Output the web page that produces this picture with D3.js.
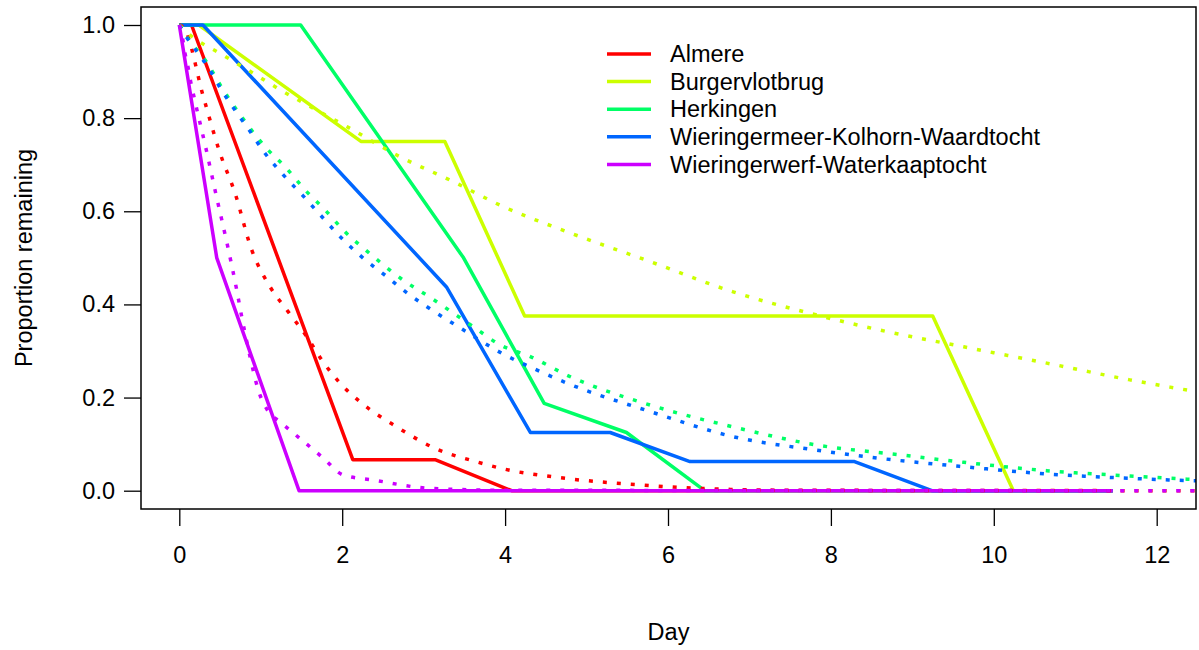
<!DOCTYPE html>
<html>
<head>
<meta charset="utf-8">
<script src="https://cdn.jsdelivr.net/npm/d3@7"></script>
<style>
  html, body { margin: 0; padding: 0; background: #fff; }
  svg text { font-family: "Liberation Sans", Arial, sans-serif; fill: #000; }
</style>
</head>
<body>
<svg id="chart" width="1199" height="650"></svg>
<script>
// Sites and their colours
const sites = ["Almere", "Burgervlotbrug", "Herkingen",
  "Wieringermeer-Kolhorn-Waardtocht", "Wieringerwerf-Waterkaaptocht"];
const siteColors = ["#FF0000", "#CCFF00", "#00FF66", "#0066FF", "#CC00FF"];

// Observed proportion remaining, [day, proportion]
const obsAlmere = [[0, 1], [0.15, 1], [2.13, 0.0667], [3.14, 0.0667], [4.08, 0], [11.46, 0]];
const obsBurgervlotbrug = [[0, 1], [0.24, 1], [2.23, 0.75], [3.26, 0.75], [4.24, 0.375], [9.25, 0.375], [10.24, 0], [11.46, 0]];
const obsHerkingen = [[0, 1], [1.49, 1], [3.49, 0.5], [4.48, 0.1875], [5.49, 0.125], [6.45, 0], [11.46, 0]];
const obsKolhorn = [[0, 1], [0.29, 1], [3.28, 0.4375], [4.31, 0.125], [5.29, 0.125], [6.27, 0.0625], [8.29, 0.0625], [9.24, 0], [11.46, 0]];
const obsWaterkaap = [[0, 1], [0.46, 0.5], [1.47, 0], [11.46, 0]];

// Fitted decay curves, [day, proportion]
const fitAlmere = [[0, 1], [0.06, 0.993], [0.295, 0.846], [0.5, 0.725], [0.684, 0.639], [0.889, 0.517],
  [1.114, 0.438], [1.338, 0.384], [1.564, 0.331], [1.748, 0.281], [1.973, 0.231], [2.24, 0.188],
  [2.67, 0.137], [3.14, 0.091], [3.65, 0.062], [4.0, 0.046], [4.67, 0.028], [5.7, 0.012],
  [6.39, 0.005], [7.5, 0.001], [13, 0]];
const fitBurgervlotbrug = [[0, 1], [0.13, 0.979], [0.5, 0.939], [0.847, 0.903], [1.277, 0.857],
  [1.605, 0.825], [2.055, 0.782], [2.71, 0.717], [3.36, 0.664], [3.94, 0.613], [4.76, 0.556],
  [5.78, 0.492], [6.8, 0.427], [7.83, 0.377], [8.6, 0.345], [9.63, 0.309], [10.65, 0.274],
  [11.67, 0.238], [12.41, 0.215], [13, 0.198]];
const fitHerkingen = [[0, 1], [0.11, 0.97], [0.336, 0.92], [0.52, 0.866], [0.724, 0.813], [0.95, 0.76],
  [1.073, 0.735], [1.318, 0.692], [1.543, 0.646], [1.789, 0.603], [2.034, 0.556], [2.3, 0.515],
  [2.75, 0.452], [3.08, 0.415], [3.61, 0.352], [3.94, 0.313], [4.31, 0.288], [4.76, 0.248],
  [5.78, 0.184], [6.8, 0.137], [7.83, 0.098], [8.85, 0.077], [9.63, 0.061], [10.65, 0.043],
  [11.67, 0.0316], [12.41, 0.0245], [13, 0.02]];
const fitKolhorn = [[0, 1], [0.11, 0.968], [0.233, 0.939], [0.336, 0.914], [0.52, 0.86], [0.724, 0.807],
  [0.847, 0.777], [1.052, 0.7245], [1.277, 0.678], [1.52, 0.633], [1.768, 0.585], [1.994, 0.542],
  [2.24, 0.502], [2.546, 0.46], [2.83, 0.42], [3.04, 0.395], [3.49, 0.345], [3.96, 0.295],
  [4.43, 0.256], [4.76, 0.231], [5.78, 0.17], [6.8, 0.116], [7.83, 0.087], [8.6, 0.0695],
  [9.63, 0.0515], [10.65, 0.036], [11.67, 0.0266], [12.41, 0.0215], [13, 0.019]];
const fitWaterkaap = [[0, 1], [0.03, 0.982], [0.07, 0.939], [0.11, 0.907], [0.14, 0.878], [0.18, 0.846],
  [0.336, 0.728], [0.447, 0.639], [0.6, 0.52], [0.705, 0.431], [0.766, 0.374], [0.868, 0.288],
  [0.97, 0.216], [1.093, 0.17], [1.236, 0.148], [1.503, 0.109], [1.768, 0.07], [2.01, 0.034],
  [2.38, 0.023], [3.08, 0.005], [4, 0.001], [13, 0]];

const observed = [obsAlmere, obsBurgervlotbrug, obsHerkingen, obsKolhorn, obsWaterkaap];
const fitted = [fitAlmere, fitBurgervlotbrug, fitHerkingen, fitKolhorn, fitWaterkaap];

// Axis ticks
const xTicks = [0, 2, 4, 6, 8, 10, 12];
const yTicks = [0, 0.2, 0.4, 0.6, 0.8, 1.0];

// Layout
const box = { left: 141, right: 1196, top: 7, bottom: 509 };
const fontSize = 23.5;

const svg = d3.select("#chart");

const x = d3.scaleLinear().domain([0, 12]).range([179.3, 1156.7]);
const y = d3.scaleLinear().domain([0, 1]).range([490.7, 25]);

svg.append("defs").append("clipPath").attr("id", "plotClip")
  .append("rect")
  .attr("x", box.left).attr("y", box.top)
  .attr("width", box.right - box.left).attr("height", box.bottom - box.top);

const plot = svg.append("g").attr("clip-path", "url(#plotClip)");

const line = d3.line().x(d => x(d[0])).y(d => y(d[1]));
const smooth = d3.line().x(d => x(d[0])).y(d => y(d[1])).curve(d3.curveMonotoneX);

// Observed curves (solid)
observed.forEach((s, i) => {
  plot.append("path")
    .attr("d", line(s))
    .attr("fill", "none")
    .attr("stroke", siteColors[i])
    .attr("stroke-width", 3.5)
    .attr("stroke-linejoin", "round");
});

// Fitted curves (dotted)
fitted.forEach((s, i) => {
  plot.append("path")
    .attr("d", smooth(s))
    .attr("fill", "none")
    .attr("stroke", siteColors[i])
    .attr("stroke-width", 3.5)
    .attr("stroke-dasharray", "4,10");
});

// Frame
svg.append("rect")
  .attr("x", box.left).attr("y", box.top)
  .attr("width", box.right - box.left).attr("height", box.bottom - box.top)
  .attr("fill", "none").attr("stroke", "#000").attr("stroke-width", 1.5);

// X axis
const xAxis = d3.axisBottom(x).tickValues(xTicks).tickSize(17).tickPadding(20)
  .tickFormat(d3.format("d"));
const gx = svg.append("g").attr("transform", `translate(0,${box.bottom})`).call(xAxis);
gx.select(".domain").remove();
gx.selectAll(".tick line").attr("stroke", "#000").attr("stroke-width", 1.3);
gx.selectAll(".tick text").attr("font-size", fontSize)
  .attr("font-family", "Liberation Sans, Arial, sans-serif");

// Y axis
const yAxis = d3.axisLeft(y).tickValues(yTicks).tickSize(17).tickPadding(9)
  .tickFormat(d3.format(".1f"));
const gy = svg.append("g").attr("transform", `translate(${box.left},0)`).call(yAxis);
gy.select(".domain").remove();
gy.selectAll(".tick line").attr("stroke", "#000").attr("stroke-width", 1.3);
gy.selectAll(".tick text").attr("font-size", fontSize)
  .attr("font-family", "Liberation Sans, Arial, sans-serif");

// Axis titles
svg.append("text")
  .attr("x", (box.left + box.right) / 2).attr("y", 640)
  .attr("text-anchor", "middle").attr("font-size", fontSize)
  .text("Day");
svg.append("text")
  .attr("transform", `translate(32,${(box.top + box.bottom) / 2}) rotate(-90)`)
  .attr("text-anchor", "middle").attr("font-size", fontSize)
  .text("Proportion remaining");

// Legend
const legend = svg.append("g");
sites.forEach((name, i) => {
  const ly = 54 + i * 27.6;
  legend.append("line")
    .attr("x1", 607).attr("x2", 651).attr("y1", ly).attr("y2", ly)
    .attr("stroke", siteColors[i]).attr("stroke-width", 3.5);
  legend.append("text")
    .attr("x", 670).attr("y", ly).attr("dy", "0.35em")
    .attr("font-size", fontSize)
    .text(name);
});
</script>
</body>
</html>
